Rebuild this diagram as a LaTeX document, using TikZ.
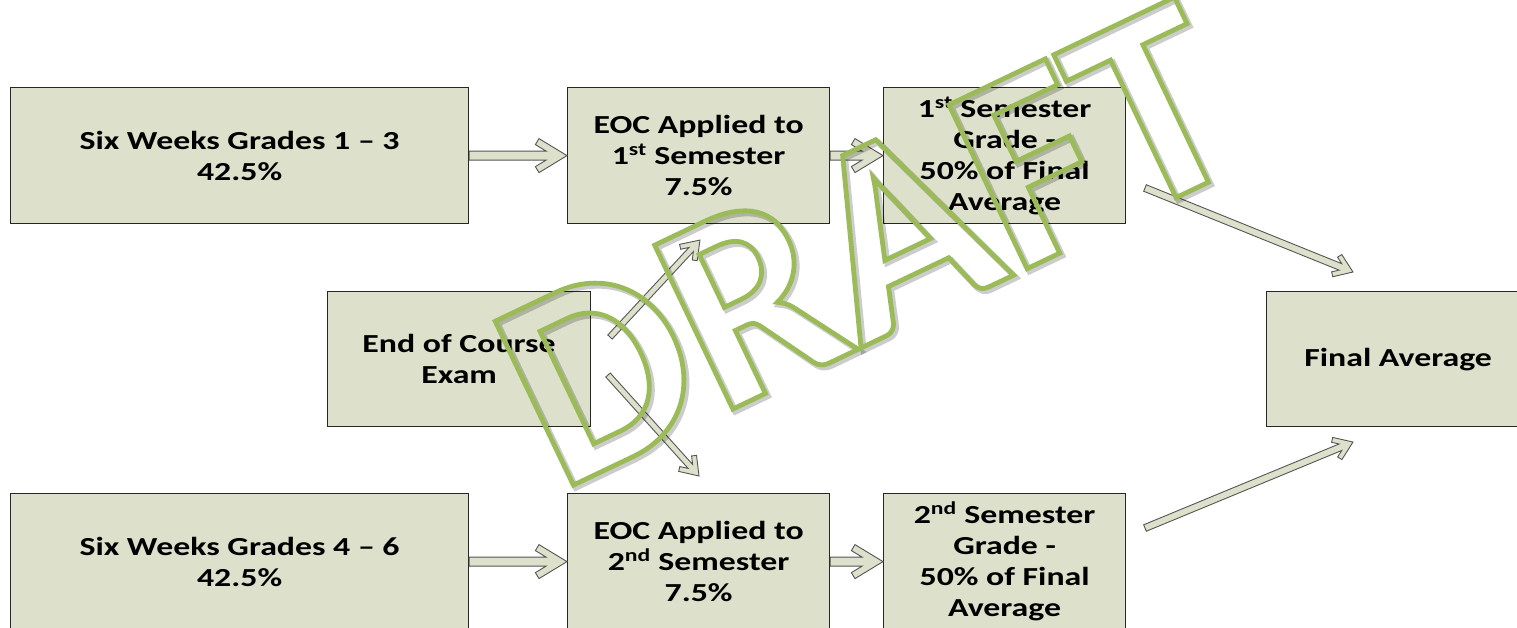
\documentclass[tikz,border=0pt]{standalone}
\usepackage{fontspec}
\usetikzlibrary{calc}
\newfontfamily\boxfont[FakeStretch=1.3]{Carlito}
\newfontfamily\draftfont{Carlito}
\definecolor{boxfill}{RGB}{221,224,202}
\definecolor{draftgreen}{RGB}{155,187,89}
\definecolor{arrowline}{RGB}{85,85,85}
\newcommand\outlinetext[2]{\special{pdf:literal direct 1 Tr #1 w 0 j}#2\special{pdf:literal direct 0 Tr}}
\newcommand\blockarrow[6]{% #1 start, #2 end, #3 half shaft, #4 head length, #5 head half height, #6 arm thickness
  \path let \p1=($(#2)-(#1)$) in \pgfextra{%
    \pgfmathsetmacro\bL{veclen(\x1,\y1)}%
    \pgfmathsetmacro\bA{atan2(\y1,\x1)}%
    \xdef\gL{\bL}\xdef\gA{\bA}};
  \pgfmathsetmacro\bn{veclen(#4,#5)}%
  \pgfmathsetmacro\bPx{\gL-#4-#6*#5/\bn}%
  \pgfmathsetmacro\bPy{#5-#6*#4/\bn}%
  \pgfmathsetmacro\bs{(\bPy-#3)*\bn/#5}%
  \pgfmathsetmacro\bQx{\bPx+\bs*#4/\bn}%
  \pgfmathsetmacro\bHx{\gL-#4}%
  \begin{scope}[shift={(#1)},rotate=\gA,x=1pt,y=1pt]
    \draw[blockarrow] (0,#3) -- (\bQx,#3) -- (\bPx,\bPy) -- (\bHx,#5) -- (\gL,0)
      -- (\bHx,-#5) -- (\bPx,-\bPy) -- (\bQx,-#3) -- (0,-#3) -- cycle;
  \end{scope}
}
\tikzset{
  box/.style={draw=black!85, line width=1.2pt, fill=boxfill, minimum height=136pt,
    align=center, inner sep=0pt, anchor=north west,
    font=\boxfont\bfseries\fontsize{26}{31}\selectfont},
  blockarrow/.style={draw=arrowline, fill=boxfill, line width=0.9pt, line join=miter},
  draftmark/.style={rotate=25.5, anchor=base, inner sep=0pt,
    font=\draftfont\bfseries\fontsize{280}{280}\selectfont}
}
\begin{document}
\begin{tikzpicture}[x=1pt,y=-1pt]
\useasboundingbox (0,0) rectangle (1517,627);
\clip (0,0) rectangle (1517,627);
\fill[white] (0,0) rectangle (1517,627);

% boxes
\node[box, minimum width=458pt] (b1) at (10,87) {Six Weeks Grades 1 – 3\\42.5\%};
\node[box, minimum width=262pt] (b2) at (567,87) {EOC Applied to\\1\textsuperscript{st} Semester\\7.5\%};
\node[box, minimum width=242pt] (b3) at (883,87) {1\textsuperscript{st} Semester\\Grade -\\50\% of Final\\Average};
\node[box, minimum width=263pt, minimum height=135pt] (exam) at (327,291) {End of Course\\Exam};
\node[box, minimum width=263pt, minimum height=135pt] (final) at (1266,291) {Final Average};
\node[box, minimum width=458pt] (b4) at (10,493) {Six Weeks Grades 4 – 6\\42.5\%};
\node[box, minimum width=262pt] (b5) at (567,493) {EOC Applied to\\2\textsuperscript{nd} Semester\\7.5\%};
\node[box, minimum width=242pt] (b6) at (883,493) {2\textsuperscript{nd} Semester\\Grade -\\50\% of Final\\Average};

% free arrow ends
\coordinate (e1s) at (610,337);
\coordinate (e1e) at (700,240);
\coordinate (e2s) at (608,375);
\coordinate (e2e) at (699,476);
\coordinate (f1s) at (1145,188);
\coordinate (f1e) at (1353,272);
\coordinate (f2s) at (1145,528);
\coordinate (f2e) at (1353,442);

% arrows
\blockarrow{b1.east}{b2.west}{4.5}{28}{17}{7}
\blockarrow{b2.east}{b3.west}{4.5}{28}{17}{7}
\blockarrow{b4.east}{b5.west}{4.5}{28}{17}{7}
\blockarrow{b5.east}{b6.west}{4.5}{28}{17}{7}
\blockarrow{e1s}{e1e}{3}{17}{12}{5}
\blockarrow{e2s}{e2e}{3}{17}{12}{5}
\blockarrow{f1s}{f1e}{3.5}{17}{12}{5}
\blockarrow{f2s}{f2e}{3.5}{17}{12}{5}

% watermark
\node[draftmark, text=black, opacity=0.2] (draftshadow) at (909.5,328.5) {\outlinetext{6}{DRAFT}};
\node[draftmark, text=draftgreen] (draft) at (907,326) {\outlinetext{4.8}{DRAFT}};
\end{tikzpicture}
\end{document}
